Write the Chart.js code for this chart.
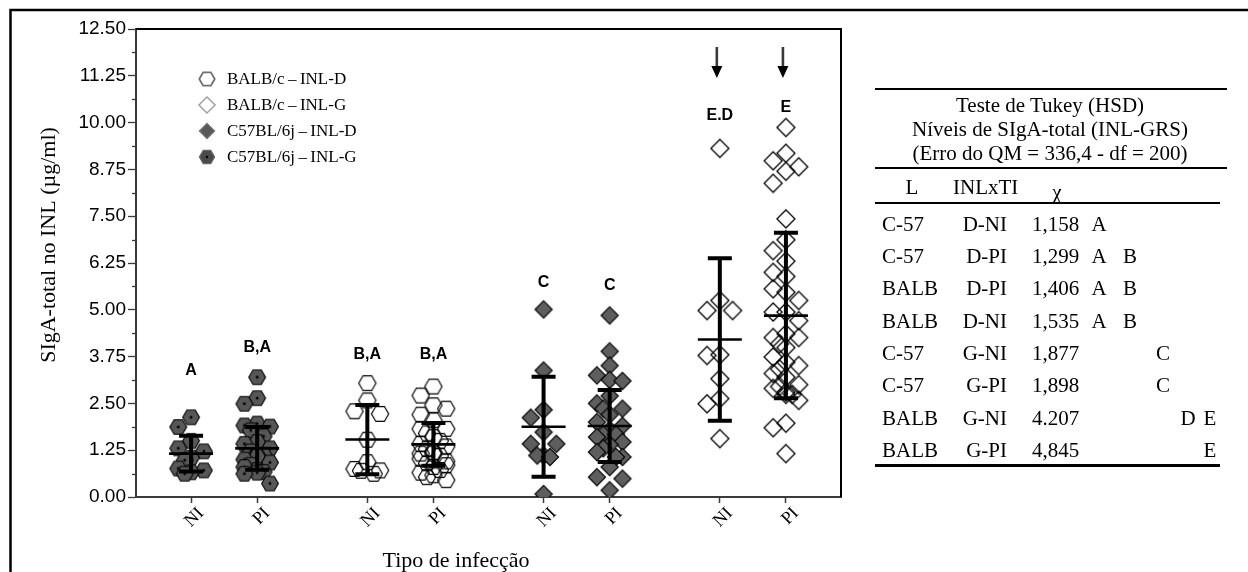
<!DOCTYPE html>
<html>
<head>
<meta charset="utf-8">
<script src="https://cdn.jsdelivr.net/npm/chart.js@4.4.1/dist/chart.umd.min.js"></script>
<style>
  html, body { margin: 0; padding: 0; background: #fff; }
  #wrap { position: relative; width: 1248px; height: 572px; overflow: hidden; background: #fff; }
  #c { position: absolute; left: 0; top: 0; width: 1248px; height: 572px; }
  .t { position: absolute; font-family: 'Liberation Serif', 'Times New Roman', serif; font-size: 21px;
       line-height: 24px; color: #000; white-space: nowrap; }
  .rule { position: absolute; background: #000; }
</style>
</head>
<body>
<div id="wrap">
  <canvas id="c" width="1248" height="572"></canvas>
  <div id="tbl"></div>
</div>
<script>
// ---- data ---------------------------------------------------------------
const tickLabels = ['NI', 'PI', 'NI', 'PI', 'NI', 'PI', 'NI', 'PI'];
const yTickValues = [0, 1.25, 2.5, 3.75, 5, 6.25, 7.5, 8.75, 10, 11.25, 12.5];

// individual SIgA-total levels (µg/ml) per group, in plotting order
const c57_D_NI  = [2.13, 1.87, 1.50, 1.30, 1.22, 1.05, 0.98, 0.76, 0.71, 0.66, 0.62];
const c57_D_PI  = [3.20, 2.64, 2.49, 1.96, 1.91, 1.88, 1.78, 1.62, 1.47, 1.42, 1.30, 1.22,
                   1.13, 1.11, 1.08, 1.00, 0.92, 0.86, 0.80, 0.72, 0.67, 0.65, 0.62, 0.36];
const balb_D_NI = [3.04, 2.58, 2.29, 2.22, 1.53, 0.93, 0.75, 0.71, 0.70, 0.62];
const balb_D_PI = [2.95, 2.71, 2.45, 2.36, 2.20, 2.05, 1.82, 1.82, 1.70, 1.60, 1.50, 1.42, 1.35, 1.28,
                   1.20, 1.16, 1.16, 1.10, 1.02, 0.95, 0.90, 0.85, 0.80, 0.72, 0.65, 0.58, 0.53, 0.45];
const c57_G_NI  = [5.01, 3.38, 2.33, 2.12, 1.73, 1.42, 1.42, 1.11, 1.11, 1.07, 0.08];
const c57_G_PI  = [4.85, 3.89, 3.51, 3.25, 3.13, 3.10, 2.70, 2.50, 2.36, 2.36, 2.20, 2.00, 1.90, 1.80,
                   1.67, 1.67, 1.60, 1.47, 1.40, 1.30, 1.20, 1.07, 1.07, 0.80, 0.53, 0.49, 0.18];
const balb_G_NI = [9.31, 5.25, 4.98, 4.98, 3.80, 3.78, 3.16, 2.63, 2.49, 1.56];
const balb_G_PI = [9.87, 9.18, 8.98, 8.82, 8.70, 8.38, 7.43, 6.87, 6.58, 6.30, 6.00, 5.89, 5.56, 5.47,
                   5.25, 4.94, 4.94, 4.71, 4.36, 4.26, 4.26, 4.09, 3.99, 3.74, 3.60, 3.51, 3.42, 3.30,
                   3.20, 3.00, 2.95, 2.90, 2.80, 2.74, 2.74, 2.58, 1.97, 1.85, 1.16];

const groupValues = [c57_D_NI, c57_D_PI, balb_D_NI, balb_D_PI, c57_G_NI, c57_G_PI, balb_G_NI, balb_G_PI];
const groupMeans  = [1.158, 1.299, 1.535, 1.406, 1.877, 1.898, 4.207, 4.845];
const groupSD     = [0.48, 0.57, 0.925, 0.57, 1.335, 0.96, 2.17, 2.21];
const groupLetters = ['A', 'B,A', 'B,A', 'B,A', 'C', 'C', 'E.D', 'E'];
const arrowGroups  = [6, 7];

const seriesNames = ['BALB/c\u2009\u2013\u2009INL-D', 'BALB/c\u2009\u2013\u2009INL-G',
                     'C57BL/6j\u2009\u2013\u2009INL-D', 'C57BL/6j\u2009\u2013\u2009INL-G'];
const seriesMarkers = ['hexOpen', 'diamondOpen', 'diamondFilled', 'hexFilled'];
const groupMarker = ['hexFilled', 'hexFilled', 'hexOpen', 'hexOpen',
                     'diamondFilled', 'diamondFilled', 'diamondOpen', 'diamondOpen'];

// Tukey table
const tukeyTitle  = ['Teste de Tukey (HSD)', 'N\u00edveis de SIgA-total (INL-GRS)', '(Erro do QM = 336,4 - df = 200)'];
const tukeyHeader = ['L', 'INLxTI', '\u03c7'];
const tukeyStrain = ['C-57', 'C-57', 'BALB', 'BALB', 'C-57', 'C-57', 'BALB', 'BALB'];
const tukeyGroup  = ['D-NI', 'D-PI', 'D-PI', 'D-NI', 'G-NI', 'G-PI', 'G-NI', 'G-PI'];
const tukeyMean   = ['1,158', '1,299', '1,406', '1,535', '1,877', '1,898', '4.207', '4,845'];
const tukeyLetters = ['A', 'A B', 'A B', 'A B', 'C', 'C', 'D E', 'E'];

// ---- layout -------------------------------------------------------------
// x axis runs 0..32; pairs centred at 4, 12, 20, 28, members at ±1.5
const xSlots = tickLabels.map((_, i) => 4 + 8 * Math.floor(i / 2) + (i % 2 ? 1.5 : -1.5));
const letterLevels = [3.38, 3.99, 3.81, 3.81, 5.73, 5.65, 10.18, 10.40];

// column-scatter: spread coincident values sideways on fixed lanes
function spread(values, step, gap) {
  const order = values.map((_, i) => i).sort((a, b) => values[b] - values[a]);
  const lanes = [0, -2, 2, -1, 1];
  const placed = [];
  const offs = new Array(values.length).fill(0);
  for (const i of order) {
    let best = 0, bestCount = Infinity;
    for (const l of lanes) {
      const clash = placed.filter(p => p.l === l && Math.abs(p.v - values[i]) < gap).length;
      if (clash === 0) { best = l; bestCount = 0; break; }
      if (clash < bestCount) { bestCount = clash; best = l; }
    }
    placed.push({ l: best, v: values[i] });
    offs[i] = best * step;
  }
  return offs;
}

// ---- marker shapes ------------------------------------------------------
function hexPath(ctx, r) {
  ctx.beginPath();
  for (let k = 0; k < 6; k++) {
    const a = Math.PI / 3 * k;
    const px = r * Math.cos(a), py = r * Math.sin(a);
    if (k) ctx.lineTo(px, py); else ctx.moveTo(px, py);
  }
  ctx.closePath();
}
function diamondPath(ctx, r) {
  ctx.beginPath();
  ctx.moveTo(0, -r); ctx.lineTo(r, 0); ctx.lineTo(0, r); ctx.lineTo(-r, 0);
  ctx.closePath();
}
const painters = {
  hexFilled(ctx, s) {
    hexPath(ctx, 8.4);
    ctx.fillStyle = s.fill || '#575757'; ctx.fill();
    ctx.lineWidth = s.lw || 1.1; ctx.strokeStyle = s.stroke || '#000'; ctx.stroke();
    ctx.beginPath(); ctx.arc(0, 0, 1.4, 0, Math.PI * 2); ctx.fillStyle = '#000'; ctx.fill();
  },
  hexOpen(ctx, s) {
    hexPath(ctx, 8.6);
    ctx.lineWidth = s.lw || 1.2; ctx.strokeStyle = s.stroke || '#000'; ctx.stroke();
  },
  diamondFilled(ctx, s) {
    diamondPath(ctx, 8.6);
    ctx.fillStyle = s.fill || '#5e5e5e'; ctx.fill();
    ctx.lineWidth = s.lw || 1.1; ctx.strokeStyle = s.stroke || '#000'; ctx.stroke();
  },
  diamondOpen(ctx, s) {
    diamondPath(ctx, 9);
    ctx.lineWidth = s.lw || 1.3; ctx.strokeStyle = s.stroke || '#000'; ctx.stroke();
  }
};
function markerImage(name) {
  const c = document.createElement('canvas');
  c.width = 24; c.height = 24;
  const ctx = c.getContext('2d');
  ctx.translate(12, 12);
  painters[name](ctx, {});
  return c;
}
const markerImages = {};
Object.keys(painters).forEach(k => { markerImages[k] = markerImage(k); });

// ---- datasets -----------------------------------------------------------
const datasets = groupValues.map((vals, g) => {
  const offs = spread(vals, 0.29, 0.36);
  return {
    label: tickLabels[g],
    data: vals.map((v, k) => ({ x: xSlots[g] + offs[k], y: v })),
    pointStyle: markerImages[groupMarker[g]],
    pointRadius: 4,
    clip: { left: 20, right: 20, top: 20, bottom: 0 }
  };
});

// ---- drawing extras -----------------------------------------------------
const SERIF = "'Liberation Serif', 'Times New Roman', serif";
const SANS = "'Liberation Sans', Arial, sans-serif";

const extras = {
  id: 'extras',
  afterDatasetsDraw(chart) {
    const { ctx, scales: { x, y } } = chart;
    ctx.save();
    ctx.strokeStyle = '#000';
    ctx.lineCap = 'butt';
    groupMeans.forEach((m, g) => {
      const px = x.getPixelForValue(xSlots[g]);
      const top = y.getPixelForValue(m + groupSD[g]);
      const bot = y.getPixelForValue(m - groupSD[g]);
      const mid = y.getPixelForValue(m);
      ctx.lineWidth = 4;
      ctx.beginPath(); ctx.moveTo(px, top); ctx.lineTo(px, bot); ctx.stroke();
      ctx.beginPath();
      ctx.moveTo(px - 12, top); ctx.lineTo(px + 12, top);
      ctx.moveTo(px - 12, bot); ctx.lineTo(px + 12, bot);
      ctx.stroke();
      ctx.lineWidth = 2.6;
      ctx.beginPath(); ctx.moveTo(px - 22, mid); ctx.lineTo(px + 22, mid); ctx.stroke();
    });
    ctx.restore();
  },
  afterDraw(chart) {
    const { ctx, chartArea: a, scales: { x, y } } = chart;
    ctx.save();

    // plot frame (top and right)
    ctx.strokeStyle = '#000';
    ctx.lineWidth = 2;
    ctx.beginPath();
    ctx.moveTo(a.left, a.top); ctx.lineTo(a.right, a.top); ctx.lineTo(a.right, a.bottom);
    ctx.stroke();

    // minor y ticks halfway between labelled ticks
    ctx.strokeStyle = '#3a3a3a';
    ctx.lineWidth = 1.3;
    for (let i = 0; i < yTickValues.length - 1; i++) {
      const py = Math.round(y.getPixelForValue((yTickValues[i] + yTickValues[i + 1]) / 2)) + 0.5;
      ctx.beginPath(); ctx.moveTo(a.left - 4, py); ctx.lineTo(a.left, py); ctx.stroke();
    }

    // significance letters
    ctx.fillStyle = '#000';
    ctx.font = 'bold 16px ' + SANS;
    ctx.textAlign = 'center';
    ctx.textBaseline = 'middle';
    groupLetters.forEach((t, g) => {
      ctx.fillText(t, x.getPixelForValue(xSlots[g]), y.getPixelForValue(letterLevels[g]));
    });

    // arrows over the highest groups
    arrowGroups.forEach(g => {
      const px = x.getPixelForValue(xSlots[g]) - 3;
      ctx.lineWidth = 2.6;
      ctx.beginPath(); ctx.moveTo(px, a.top + 18); ctx.lineTo(px, a.top + 40); ctx.stroke();
      ctx.beginPath();
      ctx.moveTo(px - 5.5, a.top + 37); ctx.lineTo(px + 5.5, a.top + 37); ctx.lineTo(px, a.top + 49);
      ctx.closePath(); ctx.fill();
    });

    // legend
    const legendStyle = {
      hexOpen: { stroke: '#707070', lw: 2 },
      diamondOpen: { stroke: '#a0a0a0', lw: 1.6 },
      diamondFilled: { fill: '#585858', stroke: '#7a7a7a', lw: 1.2 },
      hexFilled: { fill: '#4a4a4a', stroke: '#666', lw: 1.4 }
    };
    ctx.font = '17px ' + SERIF;
    ctx.textAlign = 'left';
    seriesNames.forEach((name, i) => {
      const ly = a.top + 50 + i * 26;
      ctx.save();
      ctx.translate(a.left + 71, ly);
      ctx.scale(0.9, 0.9);
      painters[seriesMarkers[i]](ctx, legendStyle[seriesMarkers[i]]);
      ctx.restore();
      ctx.fillStyle = '#000';
      ctx.fillText(name, a.left + 91, ly + 1);
    });

    // axis titles
    ctx.font = '22px ' + SERIF;
    ctx.textAlign = 'center';
    ctx.fillText('Tipo de infec\u00e7\u00e3o', 456, 561);
    ctx.save();
    ctx.translate(49, 245);
    ctx.rotate(-Math.PI / 2);
    ctx.fillText('SIgA-total no INL (\u00b5g/ml)', 0, 0);
    ctx.restore();

    // outer frame
    ctx.strokeStyle = '#000';
    ctx.lineWidth = 2.5;
    ctx.beginPath();
    ctx.moveTo(10.5, 572); ctx.lineTo(10.5, 10); ctx.lineTo(1248, 10);
    ctx.stroke();

    ctx.restore();
  }
};

new Chart(document.getElementById('c'), {
  type: 'scatter',
  data: { datasets },
  options: {
    responsive: false,
    animation: false,
    events: [],
    layout: { padding: { left: 0, top: 29, right: 407, bottom: 0 } },
    plugins: { legend: { display: false }, tooltip: { enabled: false } },
    scales: {
      x: {
        type: 'linear',
        min: 0, max: 32,
        afterBuildTicks: s => { s.ticks = xSlots.map(v => ({ value: v })); },
        afterFit: s => { s.height = 75; },
        ticks: {
          autoSkip: false,
          minRotation: 45, maxRotation: 45,
          labelOffset: 10,
          padding: 0,
          color: '#000',
          font: { family: SERIF, size: 18 },
          callback: (v, i) => tickLabels[i]
        },
        grid: { drawOnChartArea: false, drawTicks: true, tickLength: 6, tickColor: '#3a3a3a', tickWidth: 1.5 },
        border: { display: true, color: '#3a3a3a', width: 2 }
      },
      y: {
        min: 0, max: 12.5,
        afterBuildTicks: s => { s.ticks = yTickValues.map(v => ({ value: v })); },
        afterFit: s => { s.width = 136; },
        ticks: {
          padding: 2,
          color: '#000',
          font: { family: SANS, size: 19 },
          callback: v => Number(v).toFixed(2)
        },
        grid: { drawOnChartArea: false, drawTicks: true, tickLength: 8, tickColor: '#3a3a3a', tickWidth: 1.3 },
        border: { display: true, color: '#3a3a3a', width: 2 }
      }
    }
  },
  plugins: [extras]
});

// ---- Tukey table --------------------------------------------------------
const tbl = document.getElementById('tbl');
function put(text, x, yc, align) {
  const d = document.createElement('div');
  d.className = 't';
  d.textContent = text;
  d.style.top = (yc - 12) + 'px';
  if (align === 'left') d.style.left = x + 'px';
  else if (align === 'right') d.style.right = (1248 - x) + 'px';
  else { d.style.left = x + 'px'; d.style.transform = 'translateX(-50%)'; }
  tbl.appendChild(d);
}
function rule(x, y, w, h) {
  const d = document.createElement('div');
  d.className = 'rule';
  Object.assign(d.style, { left: x + 'px', top: y + 'px', width: w + 'px', height: h + 'px' });
  tbl.appendChild(d);
}
rule(875, 88, 352, 2);
tukeyTitle.forEach((t, i) => put(t, 1050, 105 + 24 * i, 'center'));
rule(875, 167, 352, 2);
put(tukeyHeader[0], 912, 187, 'center');
put(tukeyHeader[1], 953, 187, 'left');
put(tukeyHeader[2], 1057, 192, 'center');
rule(875, 202, 345, 2);
const letterCols = { A: 1099, B: 1130, C: 1163, D: 1188, E: 1210 };
tukeyStrain.forEach((s, i) => {
  const yc = 223.5 + 32.35 * i;
  put(s, 882, yc, 'left');
  put(tukeyGroup[i], 1007, yc, 'right');
  put(tukeyMean[i], 1032, yc, 'left');
  tukeyLetters[i].split(' ').forEach(l => put(l, letterCols[l], yc, 'center'));
});
rule(875, 464, 345, 2.5);
</script>
</body>
</html>
